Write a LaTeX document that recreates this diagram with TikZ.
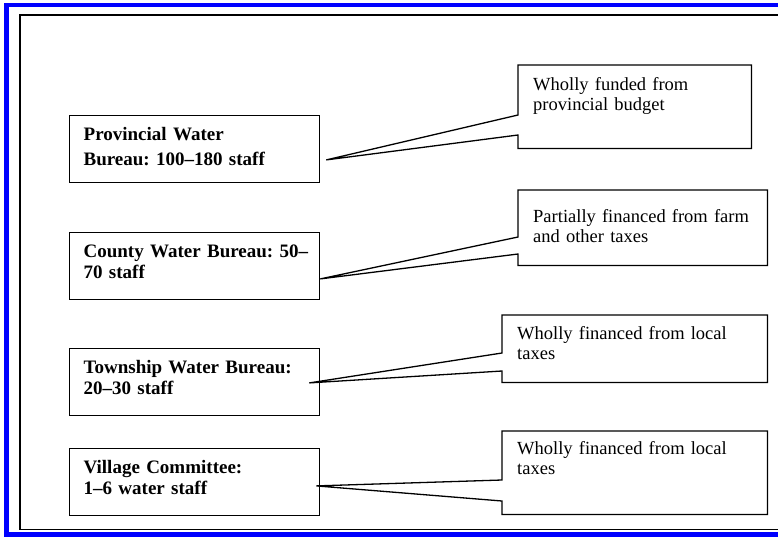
\documentclass[tikz,border=0pt]{standalone}
\usepackage{fontspec}
\setmainfont{Liberation Serif}
\usepackage{tikz}
\usetikzlibrary{calc}
\frenchspacing

\begin{document}
\begin{tikzpicture}[x=1pt, y=-1pt,
  unit/.style={draw, line width=1.3pt, anchor=north west,
    inner xsep=14pt, inner ysep=0pt, text width=222pt, align=left,
    text height=24.5pt, text depth=42pt,
    font=\fontsize{19}{21}\selectfont\bfseries},
  fund/.style={anchor=north west, inner xsep=15pt, inner ysep=0pt,
    align=left, font=\fontsize{18.5}{20}\selectfont},
  wedge/.style={line width=1.3pt, line join=miter}]

  \useasboundingbox (0,0) rectangle (778,536);
  \clip (0,0) rectangle (778,536);

  % Frames (run off the right edge)
  \draw[blue, line width=4.5pt] (6.5,5) rectangle (800,534.5);
  \draw[line width=1.5pt] (20,15) rectangle (800,529.5);

  % Levels of the water administration
  \node[unit, font=\fontsize{19}{25}\selectfont\bfseries] (prov) at (69,115)
    {Provincial Water\\Bureau: 100--180 staff};
  \node[unit] (county) at (69,232) {\mbox{County Water Bureau: 50--}\\70 staff};
  \node[unit] (town) at (69,348) {Township Water Bureau:\\20--30 staff};
  \node[unit] (village) at (69,448) {Village Committee:\\1--6 water staff};

  % Funding notes
  \node[fund, text width=203pt, text height=25.7pt, text depth=57.3pt] (prov-fund)
    at (518,65) {Wholly funded from\\provincial budget};
  \node[fund, text width=219pt, text height=32.7pt, text depth=42.3pt] (county-fund)
    at (518,190) {Partially financed from farm\\and other taxes};
  \node[fund, text width=235pt, text height=24pt, text depth=43pt] (town-fund)
    at (502,315) {Wholly financed from local\\taxes};
  \node[fund, text width=235pt, text height=23pt, text depth=60pt] (village-fund)
    at (502,431) {Wholly financed from local\\taxes};

  % Where the callout wedges point
  \coordinate (prov-tip) at ([xshift=6pt, yshift=-11pt]prov.east);
  \coordinate (county-tip) at ([yshift=-13pt]county.east);
  \coordinate (town-tip) at ([xshift=-11pt, yshift=-1pt]town.east);
  \coordinate (village-tip) at ([xshift=-4pt, yshift=-4pt]village.east);

  % Callout outlines
  \foreach \fund/\tip/\upper/\lower in {prov-fund/prov-tip/50pt/70pt,
      county-fund/county-tip/47pt/64pt, town-fund/town-tip/38pt/56pt,
      village-fund/village-tip/49pt/70pt}
    \draw[wedge] (\fund.north west) -- ([yshift=-\upper]\fund.north west)
      -- (\tip) -- ([yshift=-\lower]\fund.north west) -- (\fund.south west)
      -- (\fund.south east) -- (\fund.north east) -- cycle;
\end{tikzpicture}
\end{document}
